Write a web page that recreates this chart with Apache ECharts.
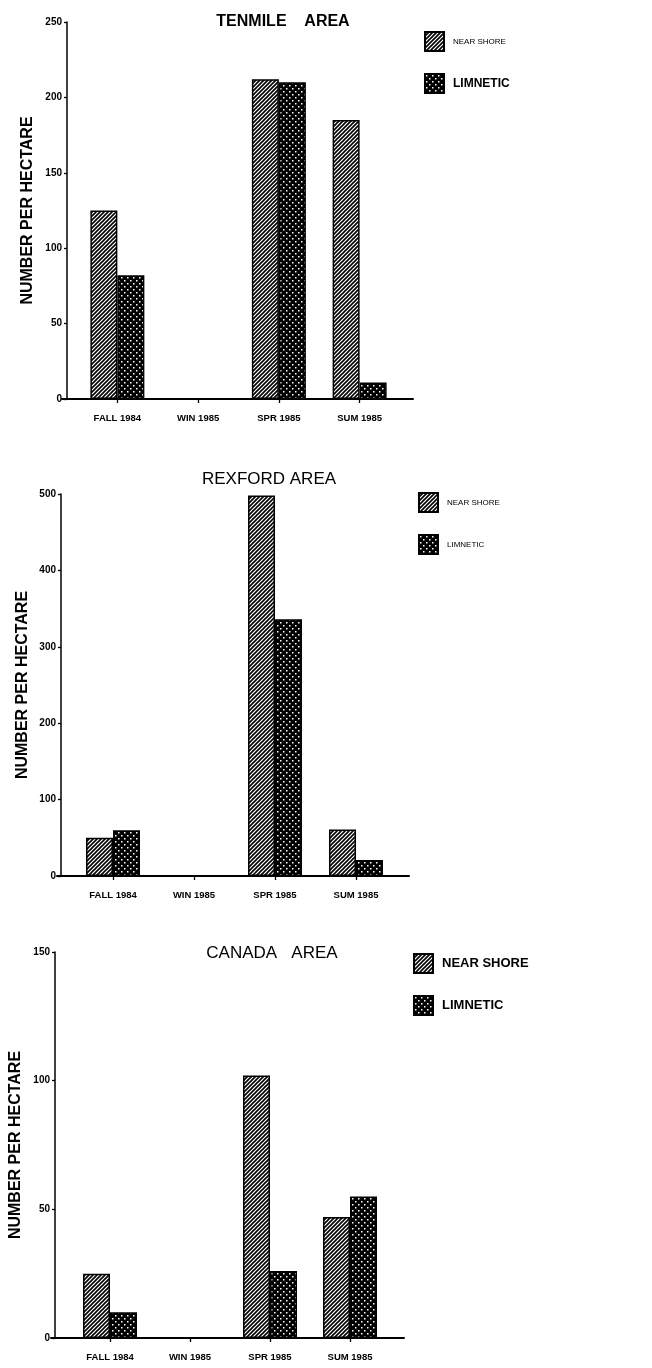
<!DOCTYPE html>
<html>
<head>
<meta charset="utf-8">
<script src="https://cdn.jsdelivr.net/npm/echarts@6/dist/echarts.min.js"></script>
<style>
html,body{margin:0;padding:0;background:#fff;}
#c{width:652px;height:1368px;}
</style>
</head>
<body>
<div id="c"></div>
<script>
// ---------------- DATA ----------------
const categories = ['FALL 1984', 'WIN 1985', 'SPR 1985', 'SUM 1985'];
const seriesNames = ['NEAR SHORE', 'LIMNETIC'];

const tenmileNearShore = [125, 0, 212, 185];
const tenmileLimnetic  = [82, 0, 210, 11];
const tenmileTicks     = [0, 50, 100, 150, 200, 250];

const rexfordNearShore = [50, 0, 498, 61];
const rexfordLimnetic  = [60, 0, 336, 21];
const rexfordTicks     = [0, 100, 200, 300, 400, 500];

const canadaNearShore  = [25, 0, 102, 47];
const canadaLimnetic   = [10, 0, 26, 55];
const canadaTicks      = [0, 50, 100, 150];

const titles = ['TENMILE    AREA', 'REXFORD AREA', 'CANADA   AREA'];
const yAxisName = 'NUMBER PER HECTARE';

// ---------------- PATTERNS ----------------
function hatchCanvas() {
  const s = 4;
  const c = document.createElement('canvas');
  c.width = s; c.height = s;
  const g = c.getContext('2d');
  g.fillStyle = '#fff'; g.fillRect(0, 0, s, s);
  g.strokeStyle = '#000'; g.lineWidth = 1.6;
  g.beginPath();
  g.moveTo(-1, s + 1); g.lineTo(s + 1, -1);
  g.moveTo(-1, 1); g.lineTo(1, -1);
  g.moveTo(s - 1, s + 1); g.lineTo(s + 1, s - 1);
  g.stroke();
  return c;
}
function dotCanvas() {
  const s = 6;
  const c = document.createElement('canvas');
  c.width = s; c.height = s;
  const g = c.getContext('2d');
  g.fillStyle = '#000'; g.fillRect(0, 0, s, s);
  g.fillStyle = '#fff';
  g.fillRect(1, 1, 1.5, 1.5);
  g.fillRect(4, 4, 1.5, 1.5);
  return c;
}
const hatchFill = { image: hatchCanvas(), repeat: 'repeat' };
const dotFill = { image: dotCanvas(), repeat: 'repeat' };

const FONT = '"Liberation Sans", Arial, sans-serif';

// ---------------- LAYOUT ----------------
const panels = [
  { ns: tenmileNearShore, lim: tenmileLimnetic, ticks: tenmileTicks, title: titles[0],
    titleX: 278, titleY: 9, titleWeight: 'bold', titleSize: 16,
    top: 22, height: 377, left: 77, width: 323, axisX: 67, baseL: 62, baseR: 413, nameGap: 31,
    legL: 424, legT: 31, legFonts: [{fontSize: 8, fontWeight: 'normal'}, {fontSize: 12, fontWeight: 'bold'}] },
  { ns: rexfordNearShore, lim: rexfordLimnetic, ticks: rexfordTicks, title: titles[1],
    titleX: 264, titleY: 466, titleWeight: 'normal', titleSize: 17,
    top: 494, height: 382, left: 72.5, width: 324, axisX: 61, baseL: 57, baseR: 409, nameGap: 30,
    legL: 418, legT: 492, legFonts: [{fontSize: 8, fontWeight: 'normal'}, {fontSize: 8, fontWeight: 'normal'}] },
  { ns: canadaNearShore, lim: canadaLimnetic, ticks: canadaTicks, title: titles[2],
    titleX: 267, titleY: 940, titleWeight: 'normal', titleSize: 17,
    top: 952, height: 386, left: 70, width: 320, axisX: 55, baseL: 51, baseR: 404, nameGap: 31,
    legL: 413, legT: 953, legFonts: [{fontSize: 13, fontWeight: 'bold'}, {fontSize: 13, fontWeight: 'bold'}] }
];

const option = {
  animation: false,
  backgroundColor: '#fff',
  textStyle: { fontFamily: FONT, color: '#000' },
  title: [], legend: [], grid: [], xAxis: [], yAxis: [], series: []
};

panels.forEach((p, i) => {
  const gBar = 2 * i, gBase = 2 * i + 1;
  option.title.push({
    text: p.title, left: p.titleX, top: p.titleY, textAlign: 'center',
    textStyle: { fontFamily: FONT, fontSize: p.titleSize, fontWeight: p.titleWeight, color: '#000' }
  });
  option.legend.push({
    orient: 'vertical', left: p.legL, top: p.legT, icon: 'rect', padding: 0,
    itemWidth: 19, itemHeight: 19, itemGap: 21, selectedMode: false,
    data: seriesNames.map((n, k) => ({ name: n, textStyle: { fontFamily: FONT, color: '#000', fontSize: p.legFonts[k].fontSize, fontWeight: p.legFonts[k].fontWeight, padding: [0, 0, 0, 4] } })),
    textStyle: { fontFamily: FONT, color: '#000' }
  });
  option.grid.push({ left: p.left, top: p.top, width: p.width, height: p.height, containLabel: false });
  option.grid.push({ left: p.baseL, top: p.top, width: p.baseR - p.baseL, height: p.height, containLabel: false });

  option.xAxis.push({
    type: 'category', gridIndex: gBar, data: categories,
    axisLine: { show: false },
    axisTick: { show: true, alignWithLabel: true, length: 4, lineStyle: { color: '#000', width: 1.3 } },
    axisLabel: { color: '#000', fontFamily: FONT, fontSize: 9.5, fontWeight: 'bold', margin: 14 }
  });
  option.xAxis.push({
    type: 'value', gridIndex: gBase, min: 0, max: 1,
    axisLine: { show: true, onZero: false, lineStyle: { color: '#000', width: 2 } },
    axisTick: { show: false }, axisLabel: { show: false }, splitLine: { show: false }
  });
  const tmin = p.ticks[0], tmax = p.ticks[p.ticks.length - 1];
  option.yAxis.push({
    type: 'value', gridIndex: gBar, min: tmin, max: tmax, interval: p.ticks[1] - p.ticks[0],
    offset: p.left - p.axisX,
    name: yAxisName, nameLocation: 'middle', nameGap: p.nameGap,
    nameTextStyle: { fontFamily: FONT, fontSize: 16, fontWeight: 'bold', color: '#000' },
    axisLine: { show: true, lineStyle: { color: '#000', width: 1.5 } },
    axisTick: { show: true, length: 3, lineStyle: { color: '#000', width: 1.3 } },
    axisLabel: { color: '#000', fontFamily: FONT, fontSize: 10, fontWeight: 'bold', margin: 5 },
    splitLine: { show: false }
  });
  option.yAxis.push({ type: 'value', gridIndex: gBase, min: 0, max: 1, show: false });

  option.series.push({
    type: 'bar', name: seriesNames[0], xAxisIndex: gBar, yAxisIndex: gBar,
    data: p.ns, barWidth: 27, barGap: '0%',
    itemStyle: { color: hatchFill, borderColor: '#000', borderWidth: 1.5 }
  });
  option.series.push({
    type: 'bar', name: seriesNames[1], xAxisIndex: gBar, yAxisIndex: gBar,
    data: p.lim, barWidth: 27, barGap: '0%',
    itemStyle: { color: dotFill, borderColor: '#000', borderWidth: 1.5 }
  });
});

const chart = echarts.init(document.getElementById('c'), null, { renderer: 'canvas' });
chart.setOption(option);
</script>
</body>
</html>
